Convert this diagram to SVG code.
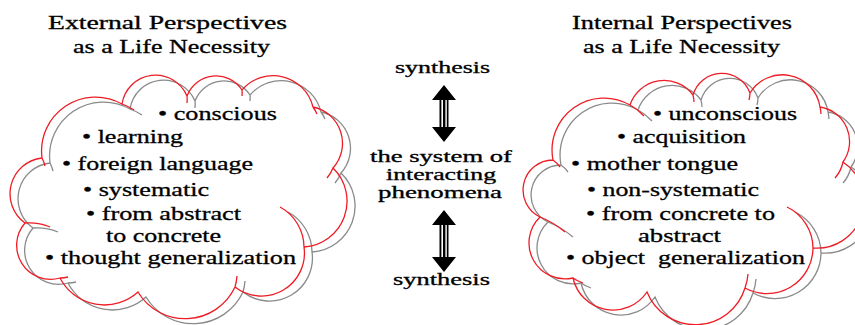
<svg xmlns="http://www.w3.org/2000/svg" width="855" height="325" viewBox="0 0 855 325">
<style>
text{font-family:"Liberation Serif","Times New Roman",serif;fill:#000;stroke:#000;stroke-width:0.3}
.t{font-size:19px}
.c{font-size:19.5px}
.m{font-size:17px}
.m2{font-size:16px}
.red{fill:none;stroke:#ee1c24;stroke-width:1.3}
.gray{fill:none;stroke:#8a8a8a;stroke-width:1.3}
</style>
<defs>
<path id="cloudL" d="M42,158 A54,54 0 0 1 122,104 A34,34 0 0 1 187,96 A31,31 0 0 1 242,90 A41,41 0 0 1 313,107 A37,37 0 0 1 333,168 A46,46 0 0 1 304,247 A43,43 0 0 1 235,287 A55,55 0 0 1 138,292 A50,50 0 0 1 60,278 A34,34 0 0 1 25,223 A36,36 0 0 1 42,158 Z M122,104 A54,54 0 0 1 134,110 M187,96 A34,34 0 0 1 187,103 M242,90 A31,31 0 0 1 242,96 M313,107 A41,41 0 0 1 317,114 M333,168 A37,37 0 0 1 327,178 M280,207 A46,46 0 0 1 304,247 M235,287 A55,55 0 0 0 237,276 M60,278 A34,34 0 0 0 68,277 M25,223 Q38,222 50,227 M42,158 A36,36 0 0 1 45,166"/>
<path id="cloudR" d="M553,160 A52,52 0 0 1 630,105 A36,36 0 0 1 693,95 A30,30 0 0 1 750,93 A38,38 0 0 1 820,107 A35,35 0 0 1 843,162 A47,47 0 0 1 813,248 A46,46 0 0 1 745,288 A52,52 0 0 1 647,292 A41,41 0 0 1 573,278 A36,36 0 0 1 540,217 A30,30 0 0 1 553,160 Z M630,105 A52,52 0 0 1 644,116 M693,95 A36,36 0 0 1 694,102 M750,93 A30,30 0 0 1 749,100 M820,107 A38,38 0 0 1 821,114 M843,162 A35,35 0 0 1 835,178 M787,207 A46,46 0 0 1 813,248 M745,288 A52,52 0 0 0 748,274 M583,283 A36,36 0 0 1 573,278 M540,217 Q553,222 565,232 M553,160 A30,30 0 0 1 560,167"/>
</defs>

<g id="title-external">
<text class="t" x="48" y="29" textLength="239" lengthAdjust="spacingAndGlyphs">External Perspectives</text>
<text class="t" x="73" y="53" textLength="197" lengthAdjust="spacingAndGlyphs">as a Life Necessity</text>
</g>
<g id="title-internal">
<text class="t" x="572" y="29" textLength="220" lengthAdjust="spacingAndGlyphs">Internal Perspectives</text>
<text class="t" x="583" y="53" textLength="197" lengthAdjust="spacingAndGlyphs">as a Life Necessity</text>
</g>

<g id="cloud-external">
<use href="#cloudL" class="gray" transform="translate(8,5)"/>
<use href="#cloudL" class="red"/>
<text class="c" x="158" y="120" textLength="119" lengthAdjust="spacingAndGlyphs">• conscious</text>
<text class="c" x="82" y="143" textLength="101" lengthAdjust="spacingAndGlyphs">• learning</text>
<text class="c" x="62" y="170" textLength="191" lengthAdjust="spacingAndGlyphs">• foreign language</text>
<text class="c" x="83" y="196" textLength="126" lengthAdjust="spacingAndGlyphs">• systematic</text>
<text class="c" x="86" y="220" textLength="155" lengthAdjust="spacingAndGlyphs">• from abstract</text>
<text class="c" x="106" y="242" textLength="115" lengthAdjust="spacingAndGlyphs">to concrete</text>
<text class="c" x="45" y="264" textLength="251" lengthAdjust="spacingAndGlyphs">• thought generalization</text>
</g>

<g id="cloud-internal">
<use href="#cloudR" class="gray" transform="translate(8,5)"/>
<use href="#cloudR" class="red"/>
<text class="c" x="653" y="120" textLength="144" lengthAdjust="spacingAndGlyphs">• unconscious</text>
<text class="c" x="617" y="143" textLength="129" lengthAdjust="spacingAndGlyphs">• acquisition</text>
<text class="c" x="571" y="170" textLength="167" lengthAdjust="spacingAndGlyphs">• mother tongue</text>
<text class="c" x="587" y="196" textLength="172" lengthAdjust="spacingAndGlyphs">• non-systematic</text>
<text class="c" x="586" y="220" textLength="189" lengthAdjust="spacingAndGlyphs">• from concrete to</text>
<text class="c" x="638" y="242" textLength="83" lengthAdjust="spacingAndGlyphs">abstract</text>
<text class="c" x="566" y="264" textLength="239" lengthAdjust="spacingAndGlyphs" xml:space="preserve">• object  generalization</text>
</g>

<g id="synthesis-top">
<text class="m" x="395" y="73" textLength="95" lengthAdjust="spacingAndGlyphs">synthesis</text>
</g>
<g id="system">
<text class="m2" x="370" y="162" textLength="142" lengthAdjust="spacingAndGlyphs">the system of</text>
<text class="m2" x="386" y="180" textLength="110" lengthAdjust="spacingAndGlyphs">interacting</text>
<text class="m2" x="378" y="198" textLength="124" lengthAdjust="spacingAndGlyphs">phenomena</text>
</g>
<g id="synthesis-bottom">
<text class="m" x="393" y="285" textLength="97" lengthAdjust="spacingAndGlyphs">synthesis</text>
</g>

<g id="connectors">
<g id="arrow-top">
<path d="M444,85 L456,100 L432,100 Z M444,142 L456,127 L432,127 Z" fill="#000"/>
<rect x="439.5" y="99" width="9" height="29" fill="#000"/>
<rect x="441.4" y="100" width="1.6" height="27" fill="#fff"/>
<rect x="445.4" y="100" width="1.4" height="27" fill="#fff"/>
</g>
<g id="arrow-bottom">
<path d="M444,210 L456,225 L432,225 Z M444,272 L456,257 L432,257 Z" fill="#000"/>
<rect x="439.5" y="224" width="9" height="34" fill="#000"/>
<rect x="441.4" y="225" width="1.6" height="32" fill="#fff"/>
<rect x="445.4" y="225" width="1.4" height="32" fill="#fff"/>
</g>
</g>
</svg>
